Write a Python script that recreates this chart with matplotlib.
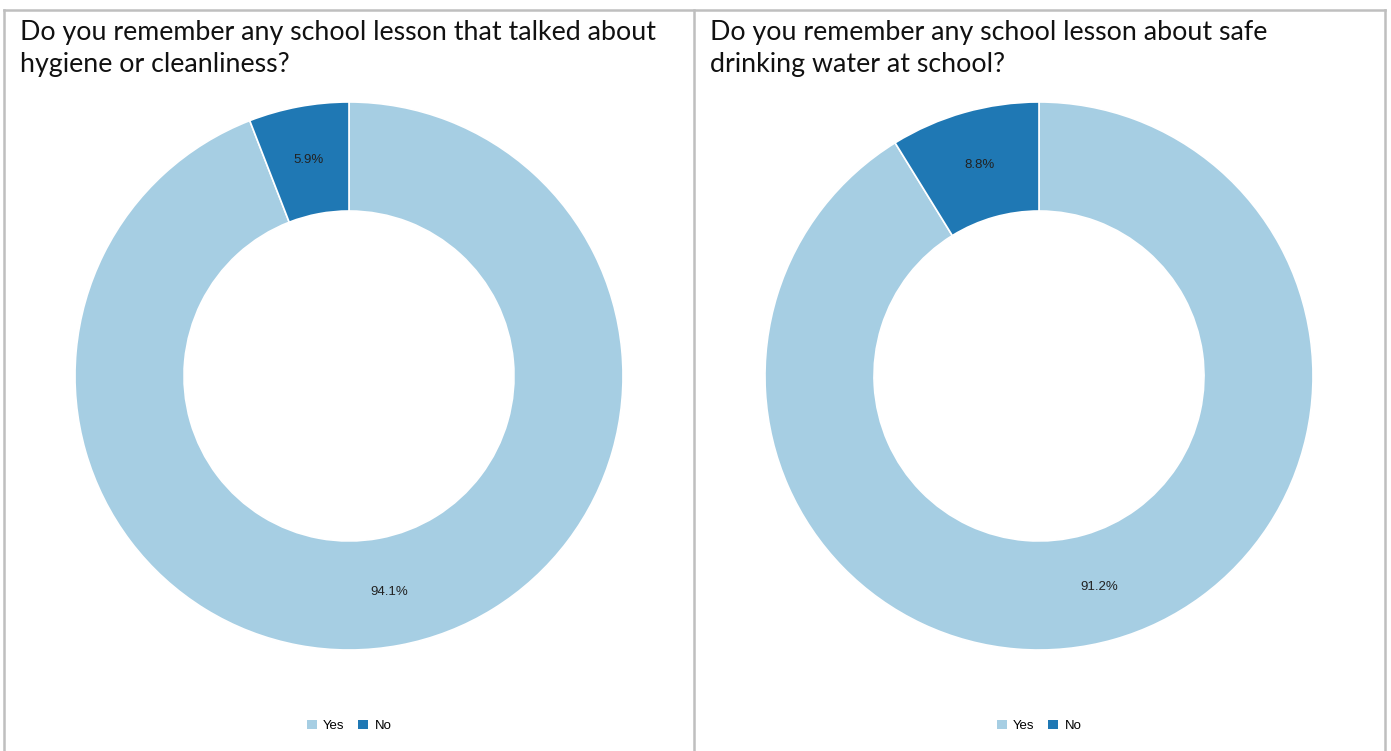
import matplotlib.pyplot as plt
from matplotlib.lines import Line2D
from matplotlib.patches import Patch

W, H = 1391, 751

answers = ["Yes", "No"]
colors = ["#a6cee3", "#1f78b4"]
questions = [
    "Do you remember any school lesson that talked about\nhygiene or cleanliness?",
    "Do you remember any school lesson about safe\ndrinking water at school?",
]
hygiene_pct = [94.1, 5.9]
water_pct = [91.2, 8.8]
panel_values = [hygiene_pct, water_pct]

fig = plt.figure(figsize=(W / 100, H / 100), dpi=100)


def px(x, y):
    # pixel position (from top-left) -> figure fraction
    return x / W, 1 - y / H


# table-like borders
border = "#bfbfbf"
for xs, ys in [([4, 1385], [10, 10]), ([4, 4], [10, H]),
               ([694, 694], [10, H]), ([1385, 1385], [10, H])]:
    fig.add_artist(Line2D([x / W for x in xs], [1 - y / H for y in ys],
                          transform=fig.transFigure, color=border, lw=1.8))

r_out, r_in = 274, 165
centers = [(349, 376), (1039, 376)]
title_x = [20, 710]

for i, (vals, q) in enumerate(zip(panel_values, questions)):
    cx, cy = centers[i]
    ax = fig.add_axes([(cx - r_out) / W, (H - cy - r_out) / H,
                       2 * r_out / W, 2 * r_out / H])
    ax.pie(vals, colors=colors, startangle=90, counterclock=False,
           radius=1, autopct="%.1f%%", pctdistance=(r_out + r_in) / 2 / r_out,
           wedgeprops=dict(width=1 - r_in / r_out, edgecolor="white", linewidth=1.2),
           textprops=dict(fontsize=9.5, color="#222222", family="Liberation Sans"))
    ax.set_xlim(-1, 1)
    ax.set_ylim(-1, 1)
    ax.set_aspect("equal")
    ax.axis("off")

    tx, ty = px(title_x[i], 20)
    fig.text(tx, ty, q, ha="left", va="top", fontsize=19.3,
             family="Lato", color="#111111", linespacing=1.36)

    handles = [Patch(facecolor=c, edgecolor="none") for c in colors]
    lx, ly = px(cx, 726)
    fig.legend(handles, answers, loc="center", bbox_to_anchor=(lx, ly),
               ncol=2, frameon=False, handlelength=0.75, handleheight=0.75,
               handletextpad=0.5, columnspacing=1.0,
               prop=dict(family="Liberation Sans", size=9.5))

fig.savefig("out.png", dpi=100)
